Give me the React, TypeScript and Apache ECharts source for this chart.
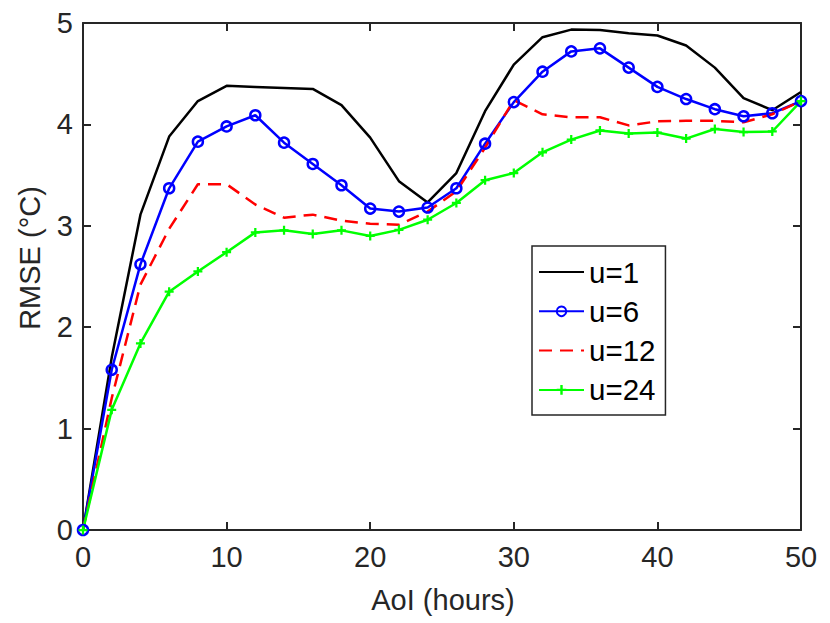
import React, { useEffect, useRef } from "react";
import * as echarts from "echarts";

const aoiHours = [0, 2, 4, 6, 8, 10, 12, 14, 16, 18, 20, 22, 24, 26, 28, 30, 32, 34, 36, 38, 40, 42, 44, 46, 48, 50];
const rmseU1 = [0, 1.70, 3.11, 3.88, 4.23, 4.38, 4.37, 4.36, 4.35, 4.19, 3.87, 3.44, 3.23, 3.52, 4.13, 4.59, 4.86, 4.935, 4.93, 4.90, 4.877, 4.778, 4.56, 4.26, 4.14, 4.32];
const rmseU6 = [0, 1.58, 2.62, 3.37, 3.83, 3.98, 4.09, 3.82, 3.61, 3.40, 3.17, 3.14, 3.18, 3.37, 3.81, 4.22, 4.52, 4.72, 4.75, 4.56, 4.37, 4.25, 4.15, 4.08, 4.11, 4.23];
const rmseU12 = [0, 1.30, 2.42, 2.97, 3.41, 3.41, 3.21, 3.08, 3.11, 3.05, 3.02, 3.01, 3.14, 3.34, 3.77, 4.24, 4.10, 4.07, 4.07, 3.99, 4.03, 4.035, 4.035, 4.02, 4.10, 4.23];
const rmseU24 = [0, 1.185, 1.84, 2.35, 2.55, 2.74, 2.935, 2.955, 2.92, 2.955, 2.90, 2.96, 3.06, 3.225, 3.45, 3.52, 3.725, 3.85, 3.94, 3.91, 3.92, 3.86, 3.955, 3.925, 3.93, 4.23];
const seriesNames = ["u=1", "u=6", "u=12", "u=24"];

const FONT = "Liberation Sans, Arial, Helvetica, sans-serif";
const AXIS_COLOR = "#262626";
const PLUS = "path://M3,0h2v3h3v2h-3v3h-2v-3h-3v-2h3z";
const LW = 2.5;

const pairs = (ys: number[]) => aoiHours.map((x, i) => [x, ys[i]]);
const hidden = { color: "rgba(0,0,0,0)", borderWidth: 0, opacity: 0 };

export default function App() {
  const ref = useRef<HTMLDivElement>(null);
  useEffect(() => {
    if (!ref.current) return;
    const chart = echarts.init(ref.current, null, { renderer: "svg" });
    const axisCommon = {
      axisLine: { show: true, onZero: false, lineStyle: { color: AXIS_COLOR, width: 2 } },
      axisTick: { show: true, inside: true, length: 8, lineStyle: { color: AXIS_COLOR, width: 2 } },
      splitLine: { show: false },
    };
    const labelStyle = { color: AXIS_COLOR, fontSize: 29, fontFamily: FONT };
    chart.setOption({
      animation: false,
      backgroundColor: "#ffffff",
      grid: { left: 83, right: 29, top: 23, bottom: 93, containLabel: false },
      xAxis: [
        { type: "value", min: 0, max: 50, interval: 10, position: "bottom", ...axisCommon,
          axisLabel: { ...labelStyle, margin: 12 } },
        { type: "value", min: 0, max: 50, interval: 10, position: "top", ...axisCommon,
          axisLabel: { show: false } },
      ],
      yAxis: [
        { type: "value", min: 0, max: 5, interval: 1, position: "left", ...axisCommon,
          axisLabel: { ...labelStyle, margin: 10 } },
        { type: "value", min: 0, max: 5, interval: 1, position: "right", ...axisCommon,
          axisLabel: { show: false } },
      ],
      legend: {
        data: [
          { name: seriesNames[0], itemStyle: hidden },
          { name: seriesNames[1] },
          { name: seriesNames[2], itemStyle: hidden },
          { name: seriesNames[3] },
        ],
        orient: "vertical",
        left: 532,
        top: 246,
        padding: [11, 10, 10, 6],
        itemGap: 9.3,
        itemWidth: 45,
        itemHeight: 12,
        borderColor: AXIS_COLOR,
        borderWidth: 1.5,
        backgroundColor: "#ffffff",
        textStyle: { color: "#000", fontSize: 29.5, fontFamily: FONT, lineHeight: 29 },
      },
      graphic: [
        { type: "text", rotation: Math.PI / 2, x: 30, y: 258,
          style: { text: "RMSE (°C)", fill: AXIS_COLOR, font: `29px ${FONT}`, align: "center", verticalAlign: "middle" } },
        { type: "text", x: 443, y: 600,
          style: { text: "AoI (hours)", fill: AXIS_COLOR, font: `29px ${FONT}`, align: "center", verticalAlign: "middle" } },
      ],
      series: [
        { name: "u=1", type: "line", data: pairs(rmseU1), showSymbol: false, symbol: "none", clip: false,
          lineStyle: { color: "#000000", width: LW }, itemStyle: { color: "#000000" } },
        { name: "u=6", type: "line", data: pairs(rmseU6), symbol: "circle", symbolSize: 10, clip: false,
          lineStyle: { color: "#0000ff", width: LW },
          itemStyle: { color: "rgba(0,0,0,0)", borderColor: "#0000ff", borderWidth: 2.5 } },
        { name: "u=12", type: "line", data: pairs(rmseU12), showSymbol: false, symbol: "none", clip: false,
          lineStyle: { color: "#ff0000", width: LW, type: [13, 8] }, itemStyle: { color: "#ff0000" } },
        { name: "u=24", type: "line", data: pairs(rmseU24), symbol: PLUS, symbolSize: 9, clip: false,
          lineStyle: { color: "#00ff00", width: LW }, itemStyle: { color: "#00ff00" } },
      ],
    });
    return () => chart.dispose();
  }, []);
  return <div ref={ref} style={{ width: 830, height: 623, position: "absolute", left: 0, top: 0 }} />;
}
